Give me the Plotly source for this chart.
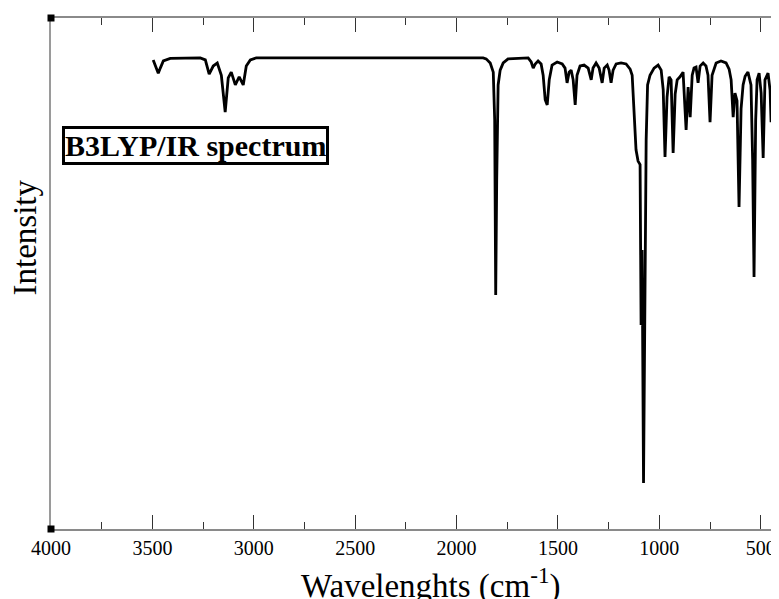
import plotly.graph_objects as go

# B3LYP computed IR spectrum
wavenumber = [3496, 3481, 3471, 3461, 3446, 3412, 3264, 3239, 3220, 3200,
              3180, 3160, 3141, 3126, 3111, 3091, 3072, 3052, 3037, 3017,
              2988, 1869, 1854, 1834, 1819, 1812, 1807, 1802, 1795, 1785,
              1770, 1746, 1647, 1632, 1622, 1612, 1598, 1583, 1573, 1563,
              1553, 1543, 1529, 1504, 1479, 1465, 1455, 1445, 1435, 1425,
              1415, 1406, 1391, 1371, 1351, 1336, 1327, 1312, 1297, 1282,
              1272, 1257, 1248, 1238, 1228, 1213, 1189, 1164, 1144, 1134,
              1124, 1115, 1105, 1095, 1090, 1085, 1078, 1070, 1065, 1058,
              1046, 1026, 1006, 991, 981, 972, 962, 952, 942, 932,
              922, 912, 898, 883, 868, 858, 848, 838, 829, 819,
              809, 799, 784, 770, 760, 750, 740, 720, 696, 671,
              656, 646, 636, 627, 617, 607, 597, 587, 577, 563,
              548, 540, 533, 525, 518, 508, 498, 488, 479, 464,
              454, 449, 439, 424, 410, 395]
intensity = [91.8, 90.2, 89.2, 90.2, 91.6, 92.1, 92.2, 91.8, 89.0, 90.6,
             91.2, 88.8, 81.6, 88.3, 89.4, 86.9, 88.5, 86.9, 90.6, 91.8,
             92.2, 92.2, 92.0, 91.2, 89.4, 80.0, 45.8, 68.3, 86.9, 89.8,
             91.2, 92.0, 92.2, 91.4, 90.2, 91.0, 91.6, 91.0, 88.8, 84.0,
             83.0, 87.9, 90.8, 91.4, 91.0, 90.2, 87.3, 89.4, 89.8, 87.9,
             83.0, 88.8, 90.6, 90.8, 90.2, 87.9, 90.2, 91.2, 90.2, 87.3,
             90.2, 90.8, 89.8, 87.3, 89.8, 91.0, 91.2, 91.0, 90.0, 88.8,
             82.0, 74.2, 72.0, 71.3, 39.9, 54.6, 9.0, 50.7, 76.1, 86.9,
             88.8, 90.2, 90.8, 89.8, 86.0, 72.8, 84.5, 88.5, 87.9, 73.6,
             85.1, 87.9, 88.5, 89.4, 78.1, 86.5, 80.6, 88.8, 90.2, 90.4,
             87.3, 90.6, 91.2, 90.6, 88.8, 79.6, 88.8, 91.2, 91.6, 91.2,
             90.0, 87.9, 80.6, 85.3, 83.8, 63.0, 82.2, 86.9, 88.6, 89.4,
             86.9, 72.4, 49.3, 80.0, 87.9, 89.2, 85.3, 72.6, 87.9, 89.2,
             85.9, 79.6, 87.5, 90.4, 91.0, 91.2]

x_ticks = [4000, 3500, 3000, 2500, 2000, 1500, 1000, 500]

serif = "Liberation Serif, Times New Roman, serif"

fig = go.Figure()
fig.add_trace(go.Scatter(
    x=wavenumber, y=intensity,
    mode='lines',
    line=dict(color='black', width=2.8),
    showlegend=False,
    hoverinfo='x+y'
))

# page body adds an 8px margin, so the margins below are shifted to compensate
fig.update_layout(
    width=779, height=599,
    plot_bgcolor='white', paper_bgcolor='white',
    margin=dict(l=43, r=7, t=10, b=78),
    showlegend=False,
    xaxis=dict(
        range=[4000, 405], showgrid=False, zeroline=False,
        showline=True, linecolor='#8a8a8a', linewidth=1.6, mirror='ticks',
        ticks='inside', ticklen=14, tickcolor='#333333', tickwidth=1,
        tickvals=x_ticks, ticktext=[str(v) for v in x_ticks],
        tickfont=dict(family=serif, size=20, color='black'),
        minor=dict(ticks='inside', ticklen=7, dtick=250, tickcolor='#333333', tickwidth=1),
        automargin=False,
    ),
    yaxis=dict(
        range=[0, 100], showgrid=False, zeroline=False,
        showline=True, linecolor='#9a9a9a', linewidth=2, mirror=True,
        showticklabels=False, ticks='', automargin=False,
    ),
)

# small black squares at the frame corners
for ax, ay in [(0, 0), (0, 1), (1, 0), (1, 1)]:
    fig.add_shape(type='rect', xref='paper', yref='paper',
                  xsizemode='pixel', ysizemode='pixel',
                  xanchor=ax, yanchor=ay,
                  x0=-3.5, x1=3.5, y0=-3.5, y1=3.5,
                  fillcolor='black', line=dict(width=0))

fig.add_annotation(
    xref='paper', yref='paper', x=0.521, y=-0.106,
    xanchor='center', yanchor='middle',
    text='Wavelenghts (cm<sup>-1</sup>)', showarrow=False,
    font=dict(family=serif, size=33, color='black')
)
fig.add_annotation(
    xref='paper', yref='paper', x=-0.036, y=0.57,
    xanchor='center', yanchor='middle',
    text='Intensity', textangle=-90, showarrow=False,
    font=dict(family=serif, size=33, color='black')
)
fig.add_annotation(
    xref='paper', yref='paper', x=0.198, y=0.7505,
    xanchor='center', yanchor='middle',
    text='<b>B3LYP/IR spectrum</b>', showarrow=False,
    font=dict(family=serif, size=30, color='black'),
    bgcolor='white', bordercolor='black', borderwidth=3, borderpad=0
)

fig.write_html("out.html")
